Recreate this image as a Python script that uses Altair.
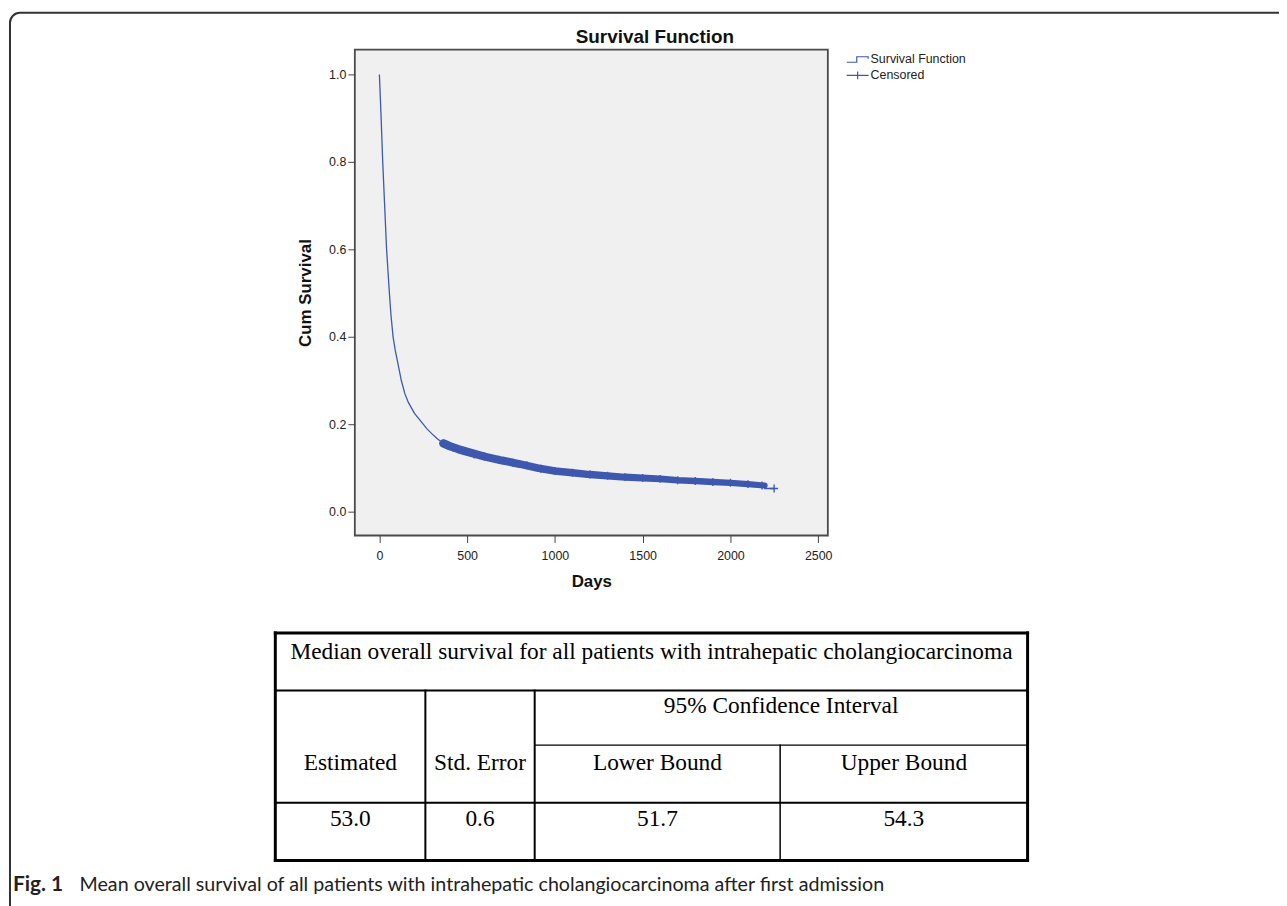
import altair as alt
import pandas as pd

# ---------------- data ----------------
# Kaplan-Meier survival curve (days, cumulative survival)
days = [0, 5, 10, 19, 30, 41, 49, 57, 66, 78, 90, 100, 125, 145, 165, 200, 230, 270, 300, 330,
        365, 400, 450, 500, 600, 700, 800, 900, 1000, 1100, 1200, 1300, 1400, 1500, 1600, 1700,
        1800, 1900, 2000, 2100, 2195, 2195, 2249]
surv = [1.0, 0.95, 0.90, 0.80, 0.70, 0.60, 0.55, 0.50, 0.45, 0.40, 0.37, 0.35, 0.30, 0.27, 0.25,
        0.225, 0.21, 0.19, 0.178, 0.167, 0.156, 0.150, 0.143, 0.137, 0.126, 0.117, 0.109, 0.100,
        0.093, 0.089, 0.085, 0.082, 0.079, 0.077, 0.075, 0.072, 0.070, 0.068, 0.066, 0.063,
        0.060, 0.053, 0.053]

# censored observations (dense band) and the final censored case
cens_days = [365, 420, 480, 540, 600, 680, 760, 840, 920, 1000, 1100, 1200, 1300, 1400, 1500,
             1600, 1700, 1800, 1900, 2000, 2100, 2180, 2249]
cens_surv = [0.156, 0.147, 0.139, 0.131, 0.126, 0.119, 0.112, 0.106, 0.098, 0.093, 0.089, 0.085,
             0.082, 0.079, 0.077, 0.075, 0.072, 0.070, 0.068, 0.066, 0.063, 0.060, 0.053]
band_start_day = 365          # first censored case
band_end_day = 2195           # end of the dense censoring band

legend_items = ["Survival Function", "Censored"]
x_ticks = [0, 500, 1000, 1500, 2000, 2500]
y_ticks = [0.0, 0.2, 0.4, 0.6, 0.8, 1.0]

chart_title = "Survival Function"
table_title = "Median overall survival for all patients with intrahepatic cholangiocarcinoma"
ci_header = "95% Confidence Interval"
col_headers = ["Estimated", "Std. Error", "Lower Bound", "Upper Bound"]
row_values = ["53.0", "0.6", "51.7", "54.3"]

caption_bold = "Fig. 1"
caption_text = ("Mean overall survival of all patients with intrahepatic "
                "cholangiocarcinoma after first admission")

# ---------------- styling / layout ----------------
BLUE = "#3d58ae"
SANS = "Liberation Sans"
SERIF = "Liberation Serif"
CAP_FONT = "Lato"
STEP_PATH = "M-1,0.25H-0.08V-0.25H0.96V-0.06"
PLUS_WIDE = "M-1,0H1M0,-0.36V0.36"
PLUS = "M-1,0H1M0,-1V1"

# view origin on the page (page margin 8 + padding)
PAD_L, PAD_T = 349, 39
OX, OY = 8 + PAD_L, 8 + PAD_T

# table geometry (table units = pixels relative to the table's top-left corner)
col_edges = [0, 151, 261, 508, 757]
row_edges = [0, 58, 113, 171, 229]
TABLE_X, TABLE_Y = 277, 634  # table top-left corner in page pixels

# ---------------- survival plot ----------------
km = pd.DataFrame({"day": days, "surv": surv, "idx": list(range(len(days)))})
last_band_idx = days.index(band_end_day)
band = km[(km.day >= band_start_day) & (km.idx <= last_band_idx)]
cens = pd.DataFrame({"day": cens_days, "surv": cens_surv})
leg = pd.DataFrame({"day": [0, 0], "surv": [1.0, 1.0], "type": legend_items})

xs = alt.Scale(domain=[-140, 2555], nice=False, zero=False)
ys = alt.Scale(domain=[-0.0545, 1.057], nice=False, zero=False)
x_axis = alt.Axis(values=x_ticks, format="d", title="Days", grid=False, domain=False,
                  tickSize=7, tickColor="#444", labelPadding=7, titlePadding=12,
                  labelFont=SANS, labelFontSize=12.5, labelColor="#222",
                  titleFont=SANS, titleFontSize=17, titleFontWeight="bold", titleColor="#111")
y_axis = alt.Axis(values=y_ticks, format=".1f", title="Cum Survival", grid=False, domain=False,
                  tickSize=7, tickColor="#444", labelPadding=2, titlePadding=14,
                  labelFont=SANS, labelFontSize=12.5, labelColor="#222",
                  titleFont=SANS, titleFontSize=17, titleFontWeight="bold", titleColor="#111")
X = alt.X("day:Q", scale=xs, axis=x_axis)
Y = alt.Y("surv:Q", scale=ys, axis=y_axis)

line = alt.Chart(km).mark_line(color=BLUE, strokeWidth=1.3).encode(
    x=X, y=Y, order="idx:Q")
band_trail = alt.Chart(band).mark_trail(color=BLUE).encode(
    x=X, y=Y, order="idx:Q",
    size=alt.Size("day:Q", scale=alt.Scale(domain=[band_start_day, band_end_day], range=[8.5, 6]),
                  legend=None))
cross = alt.Chart(cens).mark_point(shape=PLUS, size=64, filled=False, strokeWidth=1.4,
                                   color=BLUE, opacity=1).encode(x=X, y=Y)
legend_layer = alt.Chart(leg).mark_point(filled=False, opacity=0, color=BLUE).encode(
    x=X, y=Y,
    shape=alt.Shape("type:N", scale=alt.Scale(domain=legend_items, range=[STEP_PATH, PLUS_WIDE]),
                    legend=alt.Legend(title=None, orient="none", legendX=851 - OX, legendY=49 - OY,
                                      symbolSize=484, symbolStrokeWidth=1.2,
                                      symbolStrokeColor=BLUE, symbolFillColor="transparent",
                                      symbolOpacity=1, labelFont=SANS, labelFontSize=12.5,
                                      labelColor="#222", clipHeight=16, rowPadding=0,
                                      padding=0, labelOffset=1)))
plot = alt.layer(line, band_trail, cross, legend_layer)

# ---------------- table ----------------
W = col_edges[-1]
H = row_edges[-1]
lines = pd.DataFrame([
    # outer border
    {"x": 0, "x2": W, "y": 0, "y2": 0, "w": 3},
    {"x": 0, "x2": W, "y": H, "y2": H, "w": 3},
    {"x": 0, "x2": 0, "y": 0, "y2": H, "w": 3},
    {"x": W, "x2": W, "y": 0, "y2": H, "w": 3},
    # inner lines
    {"x": 0, "x2": W, "y": row_edges[1], "y2": row_edges[1], "w": 2},
    {"x": col_edges[2], "x2": W, "y": row_edges[2], "y2": row_edges[2], "w": 1.2},
    {"x": 0, "x2": W, "y": row_edges[3], "y2": row_edges[3], "w": 2},
    {"x": col_edges[1], "x2": col_edges[1], "y": row_edges[1], "y2": H, "w": 2},
    {"x": col_edges[2], "x2": col_edges[2], "y": row_edges[1], "y2": H, "w": 2},
    {"x": col_edges[3], "x2": col_edges[3], "y": row_edges[2], "y2": H, "w": 1.5},
])
centers = [(col_edges[i] + col_edges[i + 1]) / 2 for i in range(4)]
texts = [{"t": table_title, "x": W / 2, "y": 26},
         {"t": ci_header, "x": (col_edges[2] + W) / 2, "y": 81}]
texts += [{"t": s, "x": c, "y": 138} for s, c in zip(col_headers, centers)]
texts += [{"t": s, "x": c, "y": 194} for s, c in zip(row_values, centers)]
texts = pd.DataFrame(texts)

txs = alt.Scale(domain=[0, W], range=[TABLE_X - OX, TABLE_X - OX + W], nice=False, zero=False)
tys = alt.Scale(domain=[0, H], range=[TABLE_Y - OY, TABLE_Y - OY + H], nice=False, zero=False)

table_lines = alt.Chart(lines).mark_rule(color="#000", strokeCap="square").encode(
    x=alt.X("x:Q", scale=txs, axis=None), x2="x2:Q",
    y=alt.Y("y:Q", scale=tys, axis=None), y2="y2:Q",
    strokeWidth=alt.StrokeWidth("w:Q", scale=None))
table_text = alt.Chart(texts).mark_text(font=SERIF, fontSize=23.5, color="#000",
                                        align="center", baseline="alphabetic").encode(
    x=alt.X("x:Q", scale=txs, axis=None),
    y=alt.Y("y:Q", scale=tys, axis=None),
    text="t:N")
table = alt.layer(table_lines, table_text)

# ---------------- frame, title and caption ----------------
frame = alt.Chart(pd.DataFrame({"a": [0]})).mark_rect(
    filled=False, stroke="#333", strokeWidth=2, cornerRadius=10).encode(
    x=alt.value(10 - OX), x2=alt.value(1330 - OX), y=alt.value(10 - OY), y2=alt.value(950 - OY))
title = alt.Chart(pd.DataFrame({"t": [chart_title]})).mark_text(
    font=SANS, fontSize=19, fontWeight="bold", color="#111", align="center",
    baseline="alphabetic").encode(x=alt.value(659 - OX), y=alt.value(40 - OY), text="t:N")
cap1 = alt.Chart(pd.DataFrame({"t": [caption_bold]})).mark_text(
    font=CAP_FONT, fontSize=21, fontWeight="bold", color="#222", align="left",
    baseline="alphabetic").encode(x=alt.value(13 - OX), y=alt.value(894 - OY), text="t:N")
cap2 = alt.Chart(pd.DataFrame({"t": [caption_text]})).mark_text(
    font=CAP_FONT, fontSize=19.8, color="#222", align="left",
    baseline="alphabetic").encode(x=alt.value(80 - OX), y=alt.value(894 - OY), text="t:N")

chart = alt.layer(frame, plot, table, title, cap1, cap2).resolve_scale(
    x="independent", y="independent"
).properties(
    width=476, height=489,
    autosize=alt.AutoSizeParams(type="none"),
    padding={"left": PAD_L, "top": PAD_T, "right": 1279 - PAD_L - 476,
             "bottom": 898 - PAD_T - 489},
).configure_view(
    stroke="#4a4a4a", strokeWidth=1.8, fill="#f0f0f0"
)

chart.save("out.html", embed_options={"renderer": "svg", "actions": False})
